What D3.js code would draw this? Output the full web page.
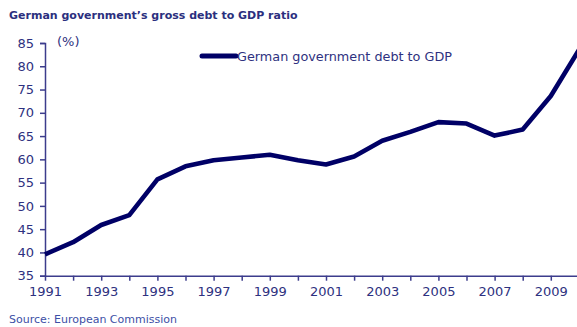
<!DOCTYPE html>
<html>
<head>
<meta charset="utf-8">
<script src="https://cdn.jsdelivr.net/npm/d3@7"></script>
<style>
  body { margin: 0; background: #fff; }
  svg { display: block; font-family: "DejaVu Sans", Verdana, sans-serif; }
</style>
</head>
<body>
<div id="chart-holder"></div>
<script>
// chart data
var years = [1991, 1992, 1993, 1994, 1995, 1996, 1997, 1998, 1999, 2000,
             2001, 2002, 2003, 2004, 2005, 2006, 2007, 2008, 2009, 2010];
var debtRatio = [39.6, 42.2, 45.9, 48.0, 55.7, 58.5, 59.8, 60.4, 61.0, 59.8,
                 58.9, 60.6, 64.0, 65.9, 68.0, 67.7, 65.1, 66.4, 73.6, 83.5];
var yTicks = [35, 40, 45, 50, 55, 60, 65, 70, 75, 80, 85];
var xLabels = [1991, 1993, 1995, 1997, 1999, 2001, 2003, 2005, 2007, 2009];
var seriesName = "German government debt to GDP";

// set dimensions of the graph
var width = 577, height = 327;
var margin = { top: 43, left: 45 };
var yearStep = 28.1;
var plotBottom = 275.7;

var svg = d3.select("#chart-holder").append("svg")
  .attr("width", width)
  .attr("height", height);

// title
svg.append("text")
  .attr("x", 9)
  .attr("y", 19)
  .style("font-size", "11px")
  .style("font-weight", "bold")
  .attr("fill", "#2b2f7e")
  .text("German government\u2019s gross debt to GDP ratio");

// scales
var x = d3.scaleLinear()
  .domain([1991, 2010])
  .range([margin.left, margin.left + 19 * yearStep]);
var y = d3.scaleLinear()
  .domain([35, 85])
  .range([plotBottom, margin.top]);

// y-axis
var yAxis = svg.append("g")
  .attr("transform", "translate(" + margin.left + ",0)")
  .call(d3.axisLeft(y).tickValues(yTicks).tickSize(5).tickPadding(6));
yAxis.select(".domain").attr("stroke", "#3c3c8c").attr("stroke-width", 1.5);
yAxis.selectAll(".tick line").attr("stroke", "#3c3c8c").attr("stroke-width", 1.5);
yAxis.selectAll("text")
  .style("font-size", "13px")
  .style("font-family", "DejaVu Sans, sans-serif")
  .attr("fill", "#2e3180");

// x-axis, a tick for every year, a label every second year
var xAxis = svg.append("g")
  .attr("transform", "translate(0," + plotBottom + ")")
  .call(d3.axisBottom(x).tickValues(years).tickSize(5).tickPadding(6)
    .tickSizeOuter(0)
    .tickFormat(function (d) { return xLabels.indexOf(d) >= 0 ? d : ""; }));
xAxis.select(".domain").attr("stroke", "#3c3c8c").attr("stroke-width", 1.5);
xAxis.selectAll(".tick line").attr("stroke", "#3c3c8c").attr("stroke-width", 1.5);
xAxis.selectAll("text")
  .style("font-size", "13px")
  .style("font-family", "DejaVu Sans, sans-serif")
  .attr("fill", "#2e3180");

// unit label
svg.append("text")
  .attr("x", 57)
  .attr("y", 46)
  .style("font-size", "13px")
  .attr("fill", "#2e3180")
  .text("(%)");

// the data line
var line = d3.line()
  .x(function (d, i) { return x(years[i]); })
  .y(function (d) { return y(d); });
svg.append("path")
  .datum(debtRatio)
  .attr("d", line)
  .attr("fill", "none")
  .attr("stroke", "#000066")
  .attr("stroke-width", 4.6)
  .attr("stroke-linejoin", "round");

// legend
svg.append("line")
  .attr("x1", 202).attr("x2", 236)
  .attr("y1", 56).attr("y2", 56)
  .attr("stroke", "#000066")
  .attr("stroke-width", 5)
  .attr("stroke-linecap", "round");
svg.append("text")
  .attr("x", 237)
  .attr("y", 61)
  .style("font-size", "12.8px")
  .attr("fill", "#2e3180")
  .text(seriesName);

// source note
svg.append("text")
  .attr("x", 9)
  .attr("y", 323)
  .style("font-size", "11px")
  .attr("fill", "#3d4fa6")
  .text("Source: European Commission");
</script>
</body>
</html>
